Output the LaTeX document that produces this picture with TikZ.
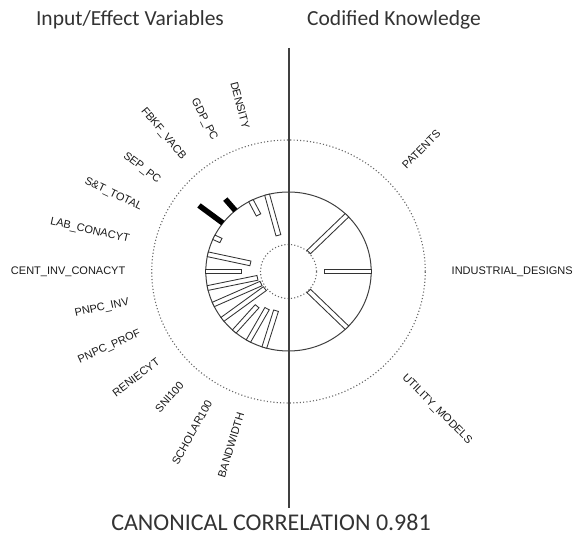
\documentclass[tikz,border=0pt]{standalone}
\usepackage{fontspec}
\newfontfamily\calib{Carlito}
\newfontfamily\helv{Liberation Sans}
\usepackage{tikz}
\usetikzlibrary{positioning}
\tikzset{>=stealth}

\begin{document}
\begin{tikzpicture}[x=1pt, y=1pt,
	lbl/.style={inner sep=0pt, text=black!90,
		font=\helv\fontsize{11}{13}\selectfont},
	head/.style={inner sep=0pt, anchor=base, text=black!80,
		font=\calib\fontsize{21.5}{25}\selectfont},
	ring/.style={draw=black!60, line width=1.1pt, dash pattern=on 1.1pt off 2.2pt},
	bar/.style={draw=black!80, line width=0.85pt, fill=white},
	posbar/.style={fill=black}]
	\useasboundingbox (-288.5,-263.5) rectangle (284.5,271.5);
	%% Circles
	\begin{scope}[xscale=1.04]
	\draw [ring] (0,0) circle (131.5);
	\draw [ring] (0,0) circle (27);
	\draw [black!75, line width=1pt] (0,0) circle (79.5);
	%% Bars, input side
	\draw [bar, rotate=105] (79.5,-2.4) rectangle ++(-42,4.8);
	\draw [bar, rotate=117] (79.5,-2.4) rectangle ++(-16,4.8);
	\fill [posbar, rotate=130] (79.5,-2.7) rectangle ++(15,5.4);
	\fill [posbar, rotate=142.5] (79.5,-2.7) rectangle ++(29,5.4);
	\draw [bar, rotate=154.5] (79.5,-2.4) rectangle ++(-7.5,4.8);
	\draw [bar, rotate=167.5] (79.5,-2.4) rectangle ++(-42,4.8);
	\draw [bar, rotate=180] (79.5,-2.4) rectangle ++(-34,4.8);
	\draw [bar, rotate=192] (79.5,-2.4) rectangle ++(-49,4.8);
	\draw [bar, rotate=204.5] (79.5,-2.4) rectangle ++(-50.5,4.8);
	\draw [bar, rotate=217] (79.5,-2.4) rectangle ++(-51,4.8);
	\draw [bar, rotate=229] (79.5,-2.4) rectangle ++(-33.5,4.8);
	\draw [bar, rotate=241] (79.5,-2.4) rectangle ++(-37,4.8);
	\draw [bar, rotate=253] (79.5,-2.4) rectangle ++(-38.5,4.8);
	%% Bars, knowledge side
	\draw [bar, rotate=45] (79.5,-2.4) rectangle ++(-52,4.8);
	\draw [bar, rotate=0] (79.5,-2.4) rectangle ++(-45,4.8);
	\draw [bar, rotate=-45] (79.5,-2.4) rectangle ++(-52,4.8);
	\end{scope}
	%% Labels, input side
	\node [lbl, anchor=east, rotate=-75] at (105:163pt and 148pt) (DENSITY) {DENSITY};
	\node [lbl, anchor=east, rotate=-63] at (117:163pt and 148pt) (GDPPC) {GDP\_PC};
	\node [lbl, anchor=east, rotate=-50] at (130:163pt and 148pt) (FBKF) {FBKF\_VACB};
	\node [lbl, anchor=east, rotate=-37.5] at (142.5:163pt and 148pt) (SEPPC) {SEP\_PC};
	\node [lbl, anchor=east, rotate=-25.5] at (154.5:163pt and 148pt) (ST) {S\&T\_TOTAL};
	\node [lbl, anchor=east, rotate=-12.5] at (167.5:163pt and 148pt) (LAB) {LAB\_CONACYT};
	\node [lbl, anchor=east, rotate=0] at (180:163pt and 148pt) (CENT) {CENT\_INV\_CONACYT};
	\node [lbl, anchor=east, rotate=12] at (192:163pt and 148pt) (PINV) {PNPC\_INV};
	\node [lbl, anchor=east, rotate=24.5] at (204.5:163pt and 148pt) (PPROF) {PNPC\_PROF};
	\node [lbl, anchor=east, rotate=37] at (217:163pt and 148pt) (RENI) {RENIECYT};
	\node [lbl, anchor=east, rotate=49] at (229:163pt and 148pt) (SNI) {SNI100};
	\node [lbl, anchor=east, rotate=61] at (241:163pt and 148pt) (SCHOL) {SCHOLAR100};
	\node [lbl, anchor=east, rotate=73] at (253:163pt and 148pt) (BAND) {BANDWIDTH};
	%% Labels, knowledge side
	\node [lbl, anchor=west, rotate=45] at (45:163pt and 148pt) (PAT) {PATENTS};
	\node [lbl, anchor=west, rotate=0] at (0:163pt and 148pt) (IND) {INDUSTRIAL\_DESIGNS};
	\node [lbl, anchor=west, rotate=-45] at (-45:163pt and 148pt) (UTIL) {UTILITY\_MODELS};
	%% Headings
	\node [head] at (-158.5,245.5) (LEFT) {Input/Effect Variables};
	\node [head] at (105.5,245.5) (RIGHT) {Codified Knowledge};
	\node [head, font=\calib\fontsize{24}{28}\selectfont] at (-17.5,-258.5) (CC) {CANONICAL CORRELATION 0.981};
	%% Divider
	\coordinate (top) at (0.5,223.5);
	\coordinate (bot) at (0.5,-236.5);
	\draw [black!75, line width=1.2pt] (top) -- (bot);
\end{tikzpicture}
\end{document}
